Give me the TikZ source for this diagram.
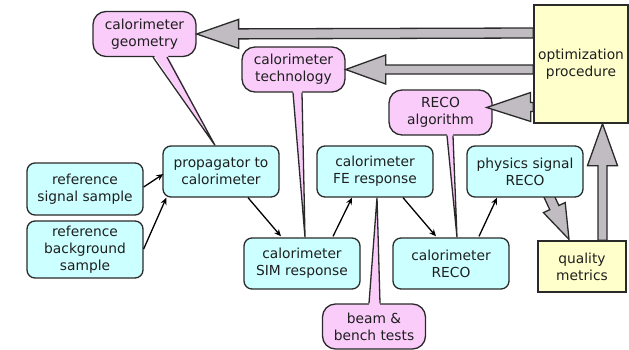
\documentclass[tikz,border=0pt]{standalone}
\usepackage{fontspec}
\setmainfont{DejaVu Sans}
\usetikzlibrary{calc,arrows.meta}
\pgfdeclarelayer{bg}
\pgfdeclarelayer{mid}
\pgfsetlayers{bg,mid,main}
\definecolor{cyanfill}{HTML}{CCFFFF}
\definecolor{pinkfill}{HTML}{FACCFA}
\definecolor{yellowfill}{HTML}{FFFFCC}
\definecolor{arrowgray}{HTML}{C0BCC2}
\definecolor{edge}{HTML}{2A2A2A}
\tikzset{
  every node/.style={font=\fontsize{13.8}{17}\selectfont, text=black!88, align=center, inner sep=0pt},
  cbox/.style={draw=edge, line width=1.3pt, fill=cyanfill, rounded corners=8pt, minimum width=116pt, minimum height=51pt},
  pbox/.style={draw=edge, line width=1.3pt, fill=pinkfill, rounded corners=13pt, minimum width=103pt, minimum height=45pt},
  ybox/.style={draw=edge, line width=1.3pt, fill=yellowfill},
  tailfill/.style={fill=pinkfill},
  tailline/.style={draw=edge, line width=1.3pt, line join=miter},
  flow/.style={draw=black, line width=1.3pt, -{Stealth[length=7pt,width=6pt]}},
  fat/.style={draw=edge, line width=1.3pt, fill=arrowgray, line join=miter},
}
% #1 from, #2 to, #3 head length, #4 head half-width, #5 shaft half-width
\newcommand\fatarr[5]{%
  \path (#2) coordinate (FT) ($(#2)!#3!(#1)$) coordinate (FH);
  \filldraw[fat] ($(#1)!#5!90:(FT)$) -- ($(FH)!#5!-90:(#1)$) -- ($(FH)!#4!-90:(#1)$) -- (FT)
     -- ($(FH)!#4!90:(#1)$) -- ($(FH)!#5!90:(#1)$) -- ($(#1)!#5!-90:(FT)$) -- cycle;}
\begin{document}
\begin{tikzpicture}[x=1pt,y=-1pt]
\useasboundingbox (0,0) rectangle (629,349);

% main boxes
\node[cbox, minimum height=52pt] (sig) at (85,189) {reference\\signal sample};
\node[cbox, minimum height=57pt] (bkg) at (85,249.5) {reference\\background\\sample};
\node[cbox] (prop) at (221,171.5) {propagator to\\calorimeter};
\node[cbox] (sim) at (302,263.5) {calorimeter\\SIM response};
\node[cbox] (fe) at (375,171.5) {calorimeter\\FE response};
\node[cbox] (reco) at (451,263.5) {calorimeter\\RECO};
\node[cbox] (phys) at (525,171.5) {physics signal\\RECO};
\node[ybox, minimum width=94pt, minimum height=118pt] (opt) at (581,64) {optimization\\procedure};
\node[ybox, minimum width=88pt, minimum height=51pt] (qual) at (582,266.5) {quality\\metrics};

% callouts
\begin{pgfonlayer}{bg}
\node[pbox] (geo) at (144.5,34) {calorimeter\\geometry};
\node[pbox] (tech) at (293.5,69.5) {calorimeter\\technology};
\node[pbox] (alg) at (440.5,112.5) {RECO\\algorithm};
\node[pbox] (beam) at (374,326.5) {beam \&\\bench tests};

\coordinate (geotip) at ($(prop.north)+(-6,0)$);
\coordinate (techtip) at ($(sim.north)+(3,0)$);
\coordinate (algtip) at ($(reco.north)+(6,0)$);
\coordinate (beamtip) at ($(fe.south)+(2,0)$);

\fill[tailfill] ($(geo.south)+(8.5,-3)$) -- (geotip) -- ($(geo.south)+(22.5,-3)$) -- cycle;
\draw[tailline] ($(geo.south)+(8.5,0)$) -- (geotip) -- ($(geo.south)+(22.5,0)$);
\fill[tailfill] ($(tech.south)+(-0.5,-3)$) -- (techtip) -- ($(tech.south)+(8.5,-3)$) -- cycle;
\draw[tailline] ($(tech.south)+(-0.5,0)$) -- (techtip) -- ($(tech.south)+(8.5,0)$);
\fill[tailfill] ($(alg.south)+(6.5,-3)$) -- (algtip) -- ($(alg.south)+(12.5,-3)$) -- cycle;
\draw[tailline] ($(alg.south)+(6.5,0)$) -- (algtip) -- ($(alg.south)+(12.5,0)$);
\fill[tailfill] ($(beam.north)+(-5,3)$) -- (beamtip) -- ($(beam.north)+(6,3)$) -- cycle;
\draw[tailline] ($(beam.north)+(-5,0)$) -- (beamtip) -- ($(beam.north)+(6,0)$);
\end{pgfonlayer}

% thin flow arrows
\draw[flow] ($(sig.east)+(0,-2)$) -- ($(prop.west)+(1,2.5)$);
\draw[flow] ($(bkg.east)+(0,-0.5)$) -- ($(prop.south west)+(4,0)$);
\draw[flow] ($(prop.south)+(27,0)$) -- ($(sim.north)+(-21,-1)$);
\draw[flow] ($(sim.north)+(31,-1)$) -- ($(fe.south)+(-23,0)$);
\draw[flow] ($(fe.south)+(28,0)$) -- ($(reco.north)+(-15,-1)$);
\draw[flow] ($(reco.north)+(28,-1)$) -- ($(phys.south)+(-28,0)$);

% fat gray arrows
\begin{pgfonlayer}{mid}
\coordinate (o1) at (opt.west |- 0,33);
\coordinate (o2) at (opt.west |- 0,69.5);
\coordinate (o3) at (opt.west |- 0,107);
\coordinate (algtipf) at ($(alg.east)+(-6,-5)$);
\fatarr{o1}{geo.east}{42pt}{14.5pt}{5pt}
\fatarr{o2}{tech.east}{40pt}{14.5pt}{4.5pt}
\fatarr{o3}{algtipf}{44pt}{14.5pt}{4.5pt}
\coordinate (q1) at ($(qual.north)+(20.5,0)$);
\coordinate (q2) at (q1 |- opt.south);
\fatarr{q1}{q2}{42pt}{15pt}{4.5pt}
\coordinate (p1) at ($(phys.south)+(21,-8)$);
\coordinate (p2) at ($(qual.north)+(-13,-1)$);
\fatarr{p1}{p2}{35pt}{12pt}{5pt}
\end{pgfonlayer}
\end{tikzpicture}
\end{document}
